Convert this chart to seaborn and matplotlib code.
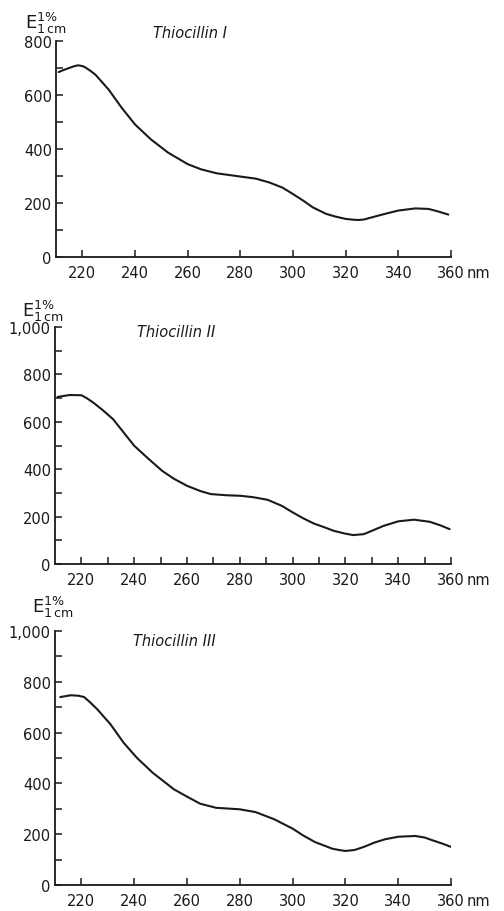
import numpy as np
import pandas as pd
import matplotlib
matplotlib.use("Agg")
import matplotlib.pyplot as plt
import seaborn as sns

# wavelength (nm) / E(1%, 1cm)
wl_1 = [211, 213, 215, 217, 218.5, 220, 221, 223, 225, 230, 235, 240, 246, 252.5,
        260, 265, 271, 280, 286, 291, 296, 300, 304, 307.5, 312.5, 316, 320, 323,
        325, 327, 330, 335, 340, 346.5, 351.5, 355, 359]
abs_1 = [685, 693, 700, 707, 710, 707, 703, 690, 675, 620, 552, 491, 436, 387,
         344, 325, 310, 298, 290, 276, 257, 233, 208, 184, 160, 150, 141, 138,
         137, 139, 147, 160, 172, 180, 178, 169, 157]

wl_2 = [211, 215.6, 220, 222, 224.5, 228, 232, 236, 240, 245.6, 250.6, 255, 260,
        265, 269, 275, 280, 285, 290.5, 296, 300, 304, 308, 312, 315.6, 320, 323,
        327, 330, 334.5, 340, 346, 352, 356, 359.5]
abs_2 = [705, 713, 712, 700, 681, 650, 611, 555, 499, 442, 393, 360, 330,
         308, 295, 290, 288, 282, 271, 245, 218, 193, 171, 155, 140, 128, 122,
         126, 140, 161, 180, 187, 178, 163, 147]

wl_3 = [212, 216, 219, 221, 223, 226, 231, 236, 241, 247, 255, 260, 265, 271,
        280, 286, 293, 300, 304, 308.5, 315, 318, 320, 323.5, 327, 331, 335, 340,
        346.5, 350, 353, 357, 360]
abs_3 = [740, 747, 745, 740, 722, 692, 633, 560, 501, 442, 377, 348, 320, 304,
         298, 287, 259, 222, 195, 169, 143, 137, 134, 138, 150, 167, 180, 190,
         193, 187, 176, 162, 150]

titles = ["Thiocillin I", "Thiocillin II", "Thiocillin III"]
y_max = [800, 1000, 1000]
y_ticks = [[0, 200, 400, 600, 800], [0, 200, 400, 600, 800, 1000], [0, 200, 400, 600, 800, 1000]]
y_ticklabels = [["0", "200", "400", "600", "800"],
                ["0", "200", "400", "600", "800", "1,000"],
                ["0", "200", "400", "600", "800", "1,000"]]
x_ticks = [220, 240, 260, 280, 300, 320, 340, 360]

sns.set_style("ticks")
plt.rcParams["font.family"] = ["DejaVu Sans"]
plt.rcParams["mathtext.fontset"] = "dejavusans"

W, H = 504, 912
fig = plt.figure(figsize=(W / 100, H / 100), dpi=100)

# axes boxes in pixels: (left, top, right, bottom)
boxes = [(56, 42, 451, 258), (55, 328, 451, 565), (55, 632, 451, 886)]
elabel_pos = [(25, 29), (22, 317), (32, 613)]
title_pos = [(153, 33), (137, 333), (133, 642)]

spectra = [(wl_1, abs_1), (wl_2, abs_2), (wl_3, abs_3)]

for i, (wl, ab) in enumerate(spectra):
    l, t, r, b = boxes[i]
    ax = fig.add_axes([l / W, 1 - b / H, (r - l) / W, (b - t) / H])
    df = pd.DataFrame({"nm": wl, "E": ab})
    sns.lineplot(data=df, x="nm", y="E", ax=ax, color="#1a1a1a", lw=1.5)

    ax.set_xlim(210, 360)
    ax.set_ylim(0, y_max[i])
    ax.set_xlabel("")
    ax.set_ylabel("")
    ax.set_xticks(x_ticks)
    ax.set_xticklabels([str(v) for v in x_ticks])
    ax.set_yticks(y_ticks[i])
    ax.set_yticklabels(y_ticklabels[i])
    ax.set_yticks(np.arange(100, y_max[i], 200), minor=True)
    if i == 1:
        ax.set_xticks(np.arange(230, 360, 20), minor=True)

    sns.despine(ax=ax)
    for s in ["left", "bottom"]:
        ax.spines[s].set_linewidth(1.3)
        ax.spines[s].set_color("#1a1a1a")
    ax.tick_params(axis="both", which="both", direction="in", length=5,
                   width=1.1, color="#1a1a1a", labelsize=10.5, labelcolor="#1a1a1a")
    ax.tick_params(axis="y", pad=3)
    ax.tick_params(axis="x", pad=6)
    ax.patch.set_alpha(0)

    # unit written right after the last tick label
    ax.annotate("nm", xy=(360, 0), xycoords="data", xytext=(11, -6),
                textcoords="offset points", ha="left", va="top",
                fontsize=10.5, color="#1a1a1a")

    ex, ey = elabel_pos[i]
    fig.text(ex / W, 1 - ey / H, r"$\mathrm{E}^{1\%}_{1\,\mathrm{cm}}$",
             ha="left", va="baseline", fontsize=13, color="#1a1a1a")
    tx, ty = title_pos[i]
    fig.text(tx / W, 1 - ty / H, titles[i], ha="left", va="center",
             fontsize=10.5, style="italic", color="#1a1a1a")

fig.savefig("out.png", dpi=100, facecolor="white")
